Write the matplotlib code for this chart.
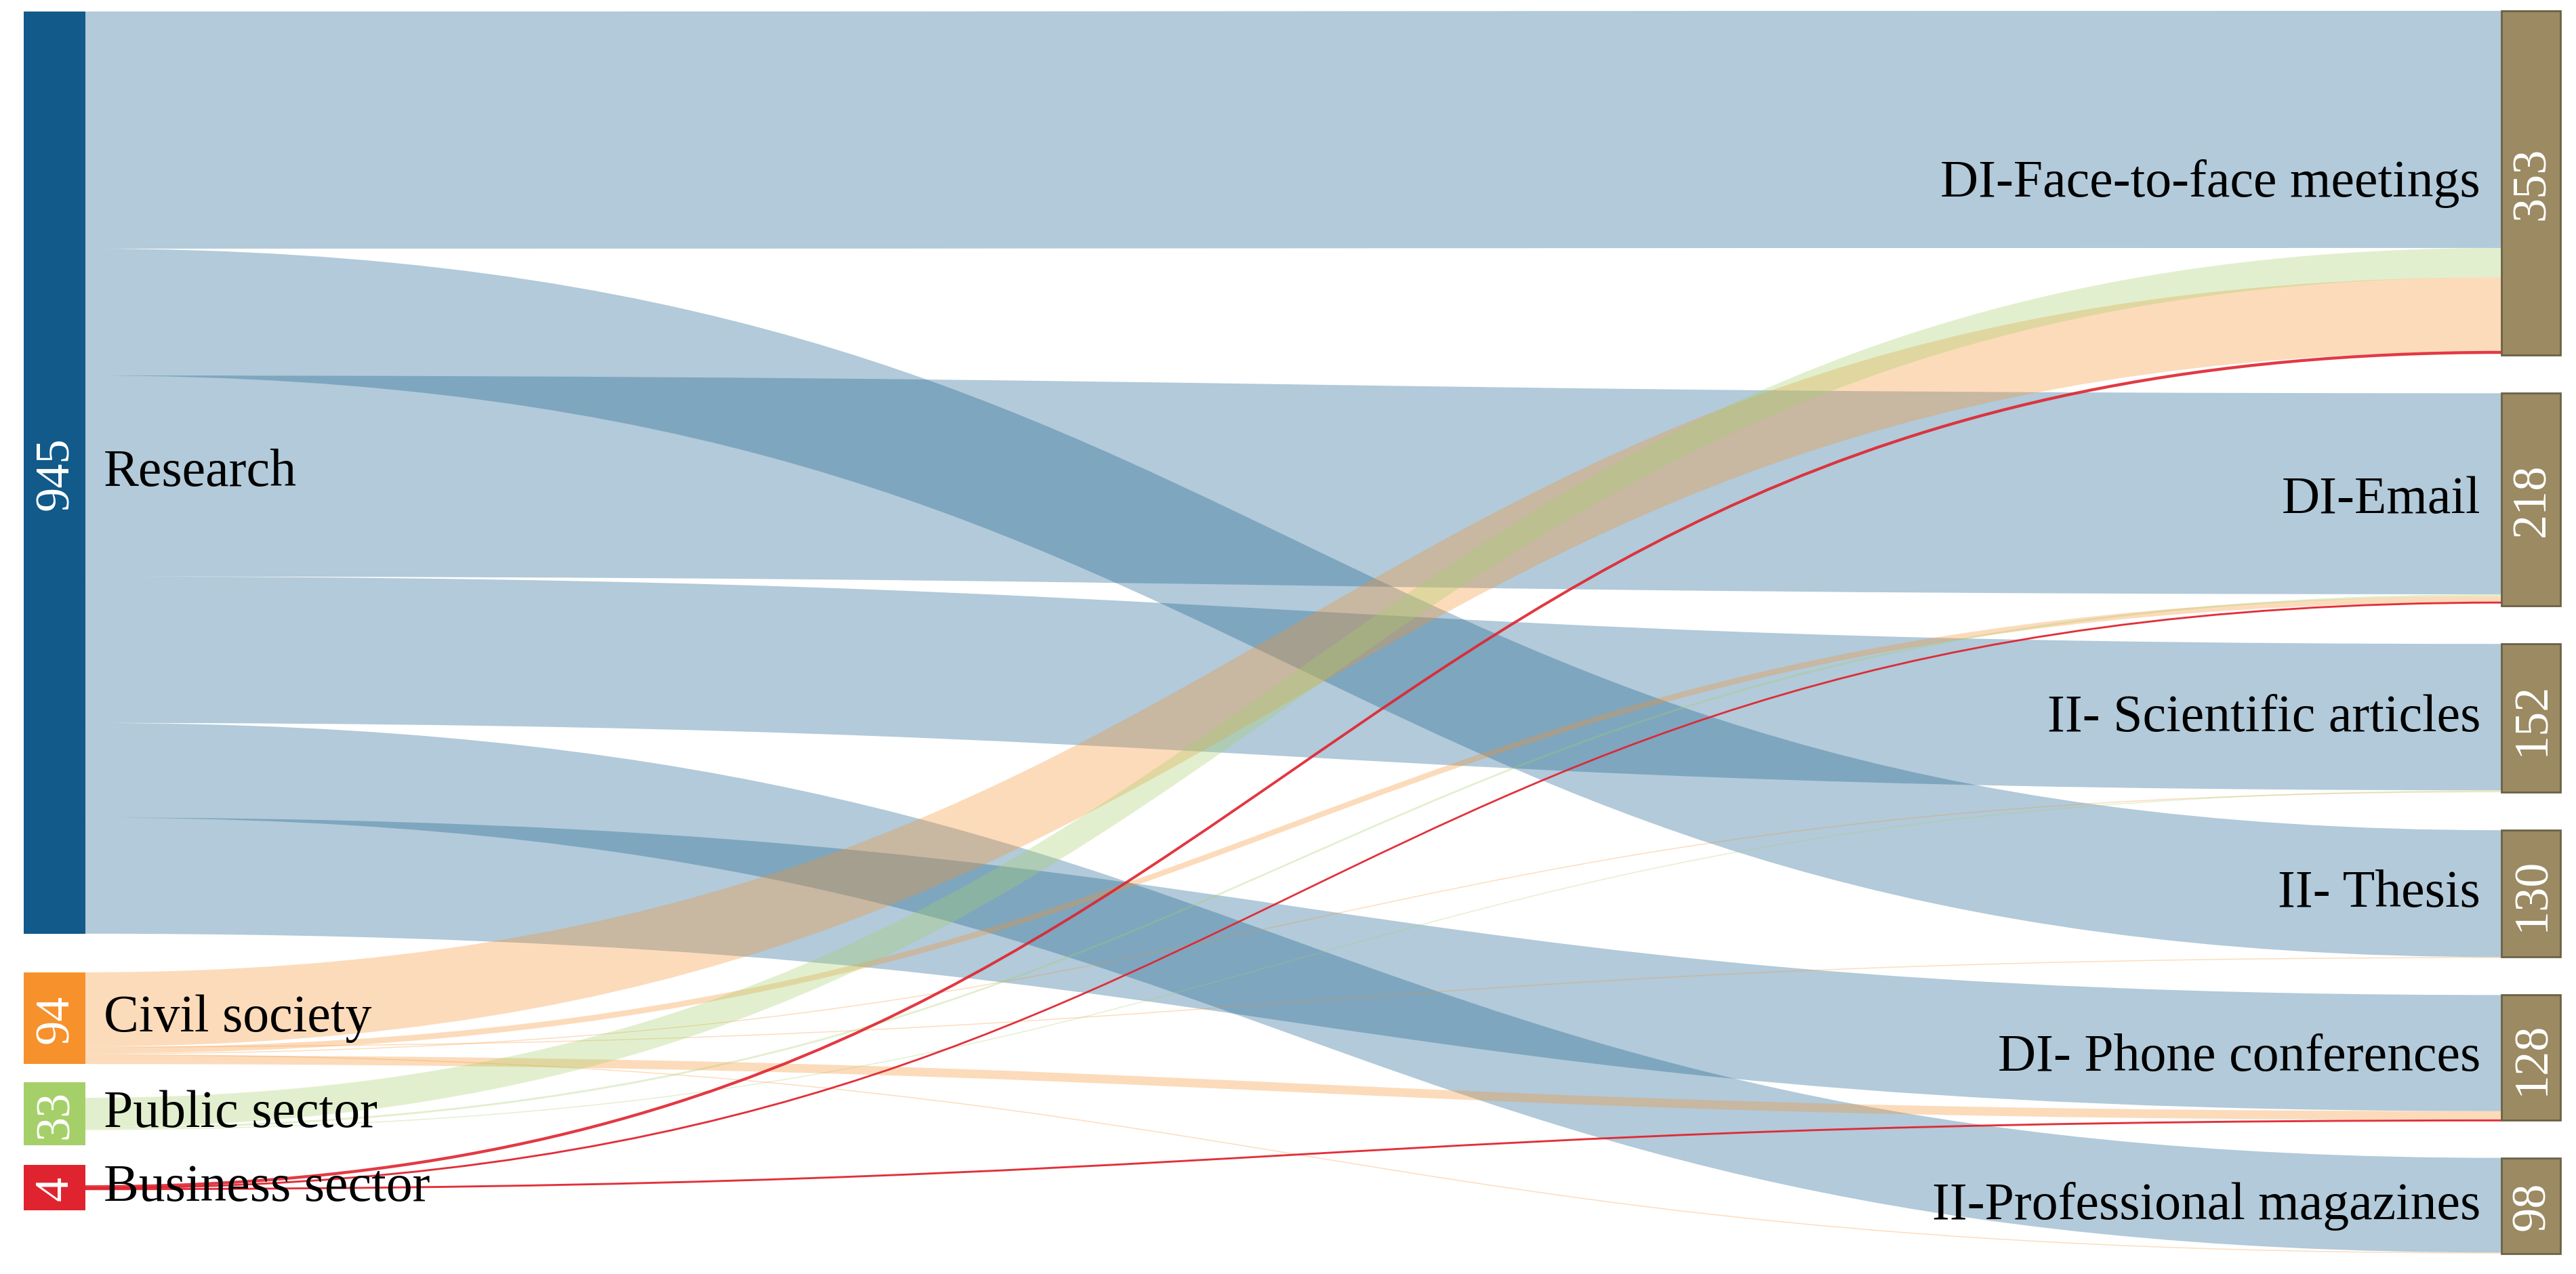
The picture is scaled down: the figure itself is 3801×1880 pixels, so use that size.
import matplotlib.pyplot as plt
from matplotlib.path import Path
from matplotlib.patches import PathPatch, Rectangle

# nodes
sources = ['Research', 'Civil society', 'Public sector', 'Business sector']
source_totals = [945, 94, 33, 4]
source_colors = ['#115a8a', '#f7912c', '#a5d069', '#e0242f']

targets = ['DI-Face-to-face meetings', 'DI-Email', 'II- Scientific articles',
           'II- Thesis', 'DI- Phone conferences', 'II-Professional magazines']
target_totals = [353, 218, 152, 130, 128, 98]

# links, in the order they leave each source node
flow_src = ['Research'] * 6 + ['Civil society'] * 6 + ['Public sector'] * 3 + ['Business sector'] * 3
flow_tgt = ['DI-Face-to-face meetings', 'II- Thesis', 'DI-Email', 'II- Scientific articles',
            'II-Professional magazines', 'DI- Phone conferences',
            'DI-Face-to-face meetings', 'II- Thesis', 'DI-Email', 'II- Scientific articles',
            'II-Professional magazines', 'DI- Phone conferences',
            'DI-Face-to-face meetings', 'DI-Email', 'II- Scientific articles',
            'DI-Face-to-face meetings', 'DI-Email', 'DI- Phone conferences']
flow_val = [243, 130, 206, 150, 97, 119,
            76, 1, 6, 1, 1, 9,
            30, 2, 1,
            2, 1, 1]

# order of sources when they enter a target node
enter_order = ['Research', 'Public sector', 'Civil society', 'Business sector']

FONT = ['Liberation Serif', 'DejaVu Serif']

# layout (pixels)
W, H = 3801, 1881
k = 1.44
xl0, xl1 = 35, 126
xr0, xr1 = 3691, 3778
left_gaps = [0, 57, 27, 29]
left_min_h = [0, 0, 93, 67]
right_gap = 56

fig = plt.figure(figsize=(W / 100, H / 100), dpi=100)
ax = fig.add_axes([0, 0, 1, 1])
ax.set_xlim(0, W)
ax.set_ylim(H, 0)
ax.axis('off')

# left node positions
left_pos = {}
y = 18
for name, tot, g, mh in zip(sources, source_totals, left_gaps, left_min_h):
    y += g
    h = max(tot * k, mh)
    left_pos[name] = (y, h)
    y += h

right_pos = {}
y = 17
for i, (name, tot) in enumerate(zip(targets, target_totals)):
    if i > 0:
        y += right_gap
    right_pos[name] = (y, tot * k)
    y += tot * k

# where each source's links start
src_cursor = {}
for name, tot in zip(sources, source_totals):
    top, h = left_pos[name]
    used = sum(v for s, v in zip(flow_src, flow_val) if s == name) * k
    src_cursor[name] = top + (h - used) / 2 if h > tot * k + 1 else top

tgt_cursor = {name: right_pos[name][0] for name in targets}
tgt_start = {}
for t in targets:
    for s in enter_order:
        for i, (fs, ft, v) in enumerate(zip(flow_src, flow_tgt, flow_val)):
            if fs == s and ft == t:
                tgt_start[i] = tgt_cursor[t]
                tgt_cursor[t] += v * k


def band(x0, x1, y0, y1, w, color, alpha, lw=0):
    xm = (x0 + x1) / 2
    verts = [(x0, y0), (xm, y0), (xm, y1), (x1, y1),
             (x1, y1 + w), (xm, y1 + w), (xm, y0 + w), (x0, y0 + w), (x0, y0)]
    codes = [Path.MOVETO, Path.CURVE4, Path.CURVE4, Path.CURVE4,
             Path.LINETO, Path.CURVE4, Path.CURVE4, Path.CURVE4, Path.CLOSEPOLY]
    ax.add_patch(PathPatch(Path(verts, codes), facecolor=color,
                           edgecolor=color if lw else 'none', linewidth=lw,
                           alpha=alpha, zorder=1))


for i, (s, t, v) in enumerate(zip(flow_src, flow_tgt, flow_val)):
    col = source_colors[sources.index(s)]
    y0 = src_cursor[s]
    src_cursor[s] += v * k
    if s == 'Business sector':
        band(xl1, xr0, y0, tgt_start[i], v * k, col, 0.85, lw=1.1)
    else:
        band(xl1, xr0, y0, tgt_start[i], v * k, col, 0.32)

# left nodes
for name, tot, col in zip(sources, source_totals, source_colors):
    top, h = left_pos[name]
    ax.add_patch(Rectangle((xl0, top), xl1 - xl0, h, facecolor=col, edgecolor='none', zorder=3))
    ax.text((xl0 + xl1) / 2 + 2, top + h / 2, str(tot), rotation=90, color='white',
            ha='center', va='center', fontsize=52, family=FONT, zorder=4)
    ax.text(xl1 + 27, top + h / 2, name, ha='left', va='center', fontsize=56,
            family=FONT, color='black', zorder=4)

# right nodes
for name, tot in zip(targets, target_totals):
    top, h = right_pos[name]
    ax.add_patch(Rectangle((xr0, top), xr1 - xr0, h, facecolor='#9b8a62',
                           edgecolor='#6b6247', linewidth=2, zorder=3))
    ax.text((xr0 + xr1) / 2 + 2, top + h / 2, str(tot), rotation=90, color='white',
            ha='center', va='center', fontsize=52, family=FONT, zorder=4)
    ax.text(xr0 - 31, top + h / 2, name, ha='right', va='center', fontsize=56,
            family=FONT, color='black', zorder=4)

fig.savefig('out.png', dpi=100, facecolor='white')
